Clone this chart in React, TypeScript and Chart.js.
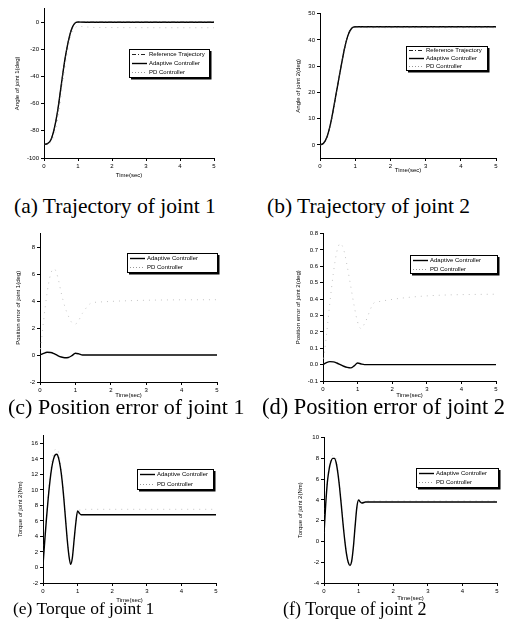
import { useEffect, useRef } from "react";
import { Chart, registerables } from "chart.js";
Chart.register(...registerables);

// ---------- data ----------
const timeTraj = [0, 0.1, 0.2, 0.3, 0.4, 0.5, 0.6, 0.7, 0.8, 0.9, 1.0, 1.2, 1.5, 5];
const refJ1 = [-90, -89.5, -87, -79, -66, -48, -30, -16, -6, -1, 0, 0, 0, 0];
const adpJ1 = [-90, -89.4, -86.7, -78.6, -65.5, -47.6, -29.7, -15.8, -5.9, -0.9, 0.1, 0, 0, 0];
const pdJ1 = [-90, -89.8, -88.5, -83, -72, -55, -36, -20, -9.5, -4.5, -3, -3.4, -3.9, -4.1];
const refJ2 = [0, 0.6, 3, 8, 15, 22.5, 30, 37, 42, 44.4, 45, 45, 45, 45];
const adpJ2 = [0, 0.6, 3.1, 8.1, 15.1, 22.6, 30, 36.9, 41.9, 44.4, 45, 45, 45, 45];
const pdJ2 = [0, 0.5, 2.6, 7.4, 14.3, 21.8, 29.3, 36.4, 41.5, 44.1, 44.8, 44.7, 44.6, 44.6];

const timeErr = [0, 0.1, 0.2, 0.3, 0.4, 0.5, 0.6, 0.7, 0.8, 0.9, 1.0, 1.1, 1.2, 1.5, 5];
const adpErrJ1 = [0, 0.12, 0.2, 0.19, 0.1, -0.04, -0.15, -0.2, -0.18, -0.05, 0.13, 0.08, 0, 0, 0];
const pdErrJ1 = [0, 2.5, 4.6, 6.0, 6.4, 5.8, 4.6, 3.6, 2.9, 2.4, 2.3, 2.6, 3.1, 3.9, 4.1];
const adpErrJ2 = [0, 0.012, 0.018, 0.017, 0.01, 0, -0.01, -0.017, -0.02, -0.008, 0.01, 0.004, 0, 0, 0];
const pdErrJ2 = [0, 0.18, 0.38, 0.56, 0.69, 0.74, 0.7, 0.6, 0.48, 0.36, 0.26, 0.22, 0.25, 0.38, 0.43];

const timeTorque = [0, 0.05, 0.1, 0.15, 0.2, 0.25, 0.3, 0.35, 0.4, 0.45, 0.5, 0.55, 0.6, 0.65, 0.7, 0.75, 0.8, 0.85, 0.9, 0.95, 1.0, 1.05, 1.1, 1.2, 1.5, 5];
const adpTauJ1 = [0.3, 3.4, 6.3, 8.9, 11.1, 12.8, 13.9, 14.5, 14.6, 14.1, 13.0, 11.3, 9.0, 6.3, 3.6, 1.5, 0.4, 1.3, 3.6, 5.8, 7.3, 7.0, 6.8, 6.8, 6.8, 6.8];
const pdTauJ1 = [0.5, 3.8, 6.8, 9.4, 11.6, 13.4, 14.6, 15.2, 15.3, 14.8, 13.6, 11.8, 9.4, 6.6, 3.9, 1.7, 0.5, 1.3, 3.5, 5.8, 7.2, 7.4, 7.4, 7.5, 7.5, 7.5];
const adpTauJ2 = [0.7, 3.6, 5.8, 7.0, 7.7, 8.0, 8.0, 7.6, 6.6, 5.2, 3.5, 1.7, 0.1, -1.2, -2.0, -2.3, -1.9, -0.5, 1.5, 3.3, 4.0, 3.8, 3.7, 3.8, 3.8, 3.8];
const pdTauJ2 = [0.8, 3.8, 6.0, 7.3, 8.0, 8.3, 8.3, 7.9, 6.9, 5.5, 3.8, 1.9, 0.2, -1.1, -2.0, -2.4, -2.0, -0.6, 1.4, 3.2, 4.0, 3.9, 3.9, 3.9, 3.9, 3.9];

const timeTicks = [0, 1, 2, 3, 4, 5];
const ticksA = [-100, -80, -60, -40, -20, 0];
const ticksB = [0, 10, 20, 30, 40, 50];
const ticksC = [-2, 0, 2, 4, 6, 8];
const ticksD = [-0.1, 0, 0.1, 0.2, 0.3, 0.4, 0.5, 0.6, 0.7, 0.8];
const ticksE = [-2, 0, 2, 4, 6, 8, 10, 12, 14, 16];
const ticksF = [-4, -2, 0, 2, 4, 6, 8, 10];

const LBL_REF = "Reference Trajectory";
const LBL_ADP = "Adaptive Controller";
const LBL_PD = "PD Controller";

// ---------- styles ----------
const STYLE: Record<string, { color: string; width: number; dash: number[] }> = {
  [LBL_REF]: { color: "#222", width: 1, dash: [4, 2, 1, 2] },
  [LBL_ADP]: { color: "#000", width: 1.4, dash: [] },
  [LBL_PD]: { color: "#c4c4c4", width: 1, dash: [1, 5] },
};

const YW = 40;
const XH = 30;
const PT = 4;
const PR = 8;
const FONT = "'Liberation Sans', Arial, sans-serif";
const LH = 7.2;

type Panel = {
  l: number; r: number; t: number; b: number;
  ymin: number; ymax: number; yticks: number[]; digits: number;
  ytitle: string; ytitleX: number; xtitleY: number;
  legend: { x: number; y: number; w: number; h: number };
  time: number[];
  series: { label: string; values: number[] }[];
};

const panels: Panel[] = [
  {
    l: 44, r: 214, t: 7, b: 158, ymin: -100, ymax: 10, yticks: ticksA, digits: 0,
    ytitle: "Angle of joint 1(deg)", ytitleX: 17, xtitleY: 175,
    legend: { x: 129, y: 49, w: 80, h: 28 }, time: timeTraj,
    series: [
      { label: LBL_REF, values: refJ1 },
      { label: LBL_ADP, values: adpJ1 },
      { label: LBL_PD, values: pdJ1 },
    ],
  },
  {
    l: 320, r: 496, t: 12, b: 158, ymin: -5, ymax: 50, yticks: ticksB, digits: 0,
    ytitle: "Angle of joint 2(deg)", ytitleX: 298, xtitleY: 170,
    legend: { x: 406, y: 46, w: 81, h: 24 }, time: timeTraj,
    series: [
      { label: LBL_REF, values: refJ2 },
      { label: LBL_ADP, values: adpJ2 },
      { label: LBL_PD, values: pdJ2 },
    ],
  },
  {
    l: 40, r: 217, t: 232, b: 382, ymin: -2, ymax: 9, yticks: ticksC, digits: 0,
    ytitle: "Position error of joint 1(deg)", ytitleX: 18, xtitleY: 395,
    legend: { x: 127, y: 253, w: 90, h: 19 }, time: timeErr,
    series: [
      { label: LBL_ADP, values: adpErrJ1 },
      { label: LBL_PD, values: pdErrJ1 },
    ],
  },
  {
    l: 323, r: 496, t: 232, b: 381, ymin: -0.1, ymax: 0.8, yticks: ticksD, digits: 1,
    ytitle: "Position error of joint 2(deg)", ytitleX: 298, xtitleY: 395,
    legend: { x: 410, y: 255, w: 87, h: 18 }, time: timeErr,
    series: [
      { label: LBL_ADP, values: adpErrJ2 },
      { label: LBL_PD, values: pdErrJ2 },
    ],
  },
  {
    l: 43, r: 216, t: 434, b: 583, ymin: -2, ymax: 17, yticks: ticksE, digits: 0,
    ytitle: "Torque of joint 2(Nm)", ytitleX: 20, xtitleY: 600,
    legend: { x: 137, y: 469, w: 76, h: 20 }, time: timeTorque,
    series: [
      { label: LBL_ADP, values: adpTauJ1 },
      { label: LBL_PD, values: pdTauJ1 },
    ],
  },
  {
    l: 324, r: 497, t: 436, b: 583, ymin: -4, ymax: 10, yticks: ticksF, digits: 0,
    ytitle: "Torque of joint 2(Nm)", ytitleX: 300, xtitleY: 598,
    legend: { x: 416, y: 468, w: 82, h: 19 }, time: timeTorque,
    series: [
      { label: LBL_ADP, values: adpTauJ2 },
      { label: LBL_PD, values: pdTauJ2 },
    ],
  },
];

const captions = [
  { text: "(a) Trajectory of joint 1", left: 14, top: 196, size: 21.5 },
  { text: "(b) Trajectory of joint 2", left: 267, top: 196, size: 21.5 },
  { text: "(c) Position error of joint 1", left: 8, top: 396, size: 22 },
  { text: "(d) Position error of joint 2", left: 262, top: 396, size: 22.5 },
  { text: "(e) Torque of joint 1", left: 13, top: 600, size: 17.5 },
  { text: "(f) Torque of joint 2", left: 283, top: 600, size: 18 },
];

function canvasBox(p: Panel) {
  const left = p.l - YW;
  const top = p.t - PT;
  const width = p.r - p.l + YW + PR;
  const height = p.b - p.t + PT + XH;
  return { left, top, width, height };
}

function PanelChart({ p }: { p: Panel }) {
  const ref = useRef<HTMLCanvasElement | null>(null);
  const box = canvasBox(p);
  useEffect(() => {
    if (!ref.current) return;
    const font = { family: FONT, size: 6, lineHeight: 1.2 };
    const padTitleY = p.ytitleX - box.left - LH / 2;
    const padTitleX = p.b + XH - LH / 2 - p.xtitleY;
    const legendPlugin = {
      id: "boxLegend" + p.l + "_" + p.t,
      afterDraw(chart: any) {
        const ctx = chart.ctx as CanvasRenderingContext2D;
        const x = p.legend.x - box.left;
        const y = p.legend.y - box.top;
        const w = p.legend.w;
        const h = p.legend.h;
        ctx.save();
        ctx.fillStyle = "#fff";
        ctx.fillRect(x, y, w, h);
        ctx.strokeStyle = "#000";
        ctx.lineWidth = 1;
        ctx.setLineDash([]);
        ctx.strokeRect(x + 0.5, y + 0.5, w, h);
        ctx.lineWidth = 1.5;
        ctx.beginPath();
        ctx.moveTo(x + w + 1.75, y + 2);
        ctx.lineTo(x + w + 1.75, y + h + 1.75);
        ctx.lineTo(x + 2, y + h + 1.75);
        ctx.stroke();
        const ds = chart.data.datasets;
        const rowH = h / ds.length;
        ds.forEach((d: any, i: number) => {
          const cy = Math.round(y + rowH * (i + 0.5)) + 0.5;
          const st = STYLE[d.label];
          ctx.strokeStyle = st.label === LBL_PD ? "#999" : st.color;
          ctx.strokeStyle = d.label === LBL_PD ? "#999" : st.color;
          ctx.lineWidth = st.width;
          ctx.setLineDash(d.label === LBL_PD ? [1, 2] : st.dash);
          ctx.beginPath();
          ctx.moveTo(x + 3, cy);
          ctx.lineTo(x + 18, cy);
          ctx.stroke();
          ctx.setLineDash([]);
          ctx.fillStyle = "#000";
          ctx.font = "6px " + FONT;
          ctx.textBaseline = "middle";
          ctx.textAlign = "left";
          ctx.fillText(d.label, x + 20, cy);
        });
        ctx.restore();
      },
    };
    const chart = new Chart(ref.current, {
      type: "line",
      data: {
        datasets: p.series.map((s) => ({
          label: s.label,
          data: p.time.map((t, i) => ({ x: t, y: s.values[i] })),
          borderColor: STYLE[s.label].color,
          borderWidth: STYLE[s.label].width,
          borderDash: STYLE[s.label].dash,
          pointRadius: 0,
          fill: false,
          cubicInterpolationMode: "monotone" as const,
        })),
      },
      options: {
        animation: false,
        responsive: false,
        maintainAspectRatio: false,
        layout: { padding: { left: 0, top: PT, right: PR, bottom: 0 } },
        plugins: { legend: { display: false }, tooltip: { enabled: false } },
        scales: {
          x: {
            type: "linear",
            min: 0,
            max: 5,
            afterBuildTicks: (s: any) => {
              s.ticks = timeTicks.map((v) => ({ value: v }));
            },
            ticks: { font, color: "#000", padding: 2, maxRotation: 0, autoSkip: false },
            grid: { display: true, drawOnChartArea: false, drawTicks: true, tickLength: 3, color: "#000" },
            border: { display: true, color: "#000", width: 1 },
            title: { display: true, text: "Time(sec)", font, color: "#000", padding: { top: 0, bottom: padTitleX } },
            afterFit: (s: any) => {
              s.height = XH;
            },
          },
          y: {
            type: "linear",
            min: p.ymin,
            max: p.ymax,
            afterBuildTicks: (s: any) => {
              s.ticks = p.yticks.map((v) => ({ value: v }));
            },
            ticks: {
              font,
              color: "#000",
              padding: 2,
              autoSkip: false,
              callback: (v: any) => Number(v).toFixed(p.digits),
            },
            grid: { display: true, drawOnChartArea: false, drawTicks: true, tickLength: 3, color: "#000" },
            border: { display: true, color: "#000", width: 1 },
            title: { display: true, text: p.ytitle, font, color: "#000", padding: { top: padTitleY, bottom: 0 } },
            afterFit: (s: any) => {
              s.width = YW;
            },
          },
        },
      } as any,
      plugins: [legendPlugin],
    });
    return () => chart.destroy();
  }, []);
  return (
    <canvas
      ref={ref}
      width={box.width}
      height={box.height}
      style={{ position: "absolute", left: box.left, top: box.top, width: box.width, height: box.height }}
    />
  );
}

export default function App() {
  return (
    <div style={{ position: "absolute", left: 0, top: 0, width: 515, height: 625, background: "#fff", overflow: "hidden" }}>
      {panels.map((p, i) => (
        <PanelChart key={i} p={p} />
      ))}
      {captions.map((c, i) => (
        <div
          key={"c" + i}
          style={{
            position: "absolute",
            left: c.left,
            top: c.top,
            fontFamily: "'Liberation Serif', 'Times New Roman', serif",
            fontSize: c.size,
            lineHeight: 1,
            whiteSpace: "nowrap",
            color: "#000",
          }}
        >
          {c.text}
        </div>
      ))}
    </div>
  );
}
